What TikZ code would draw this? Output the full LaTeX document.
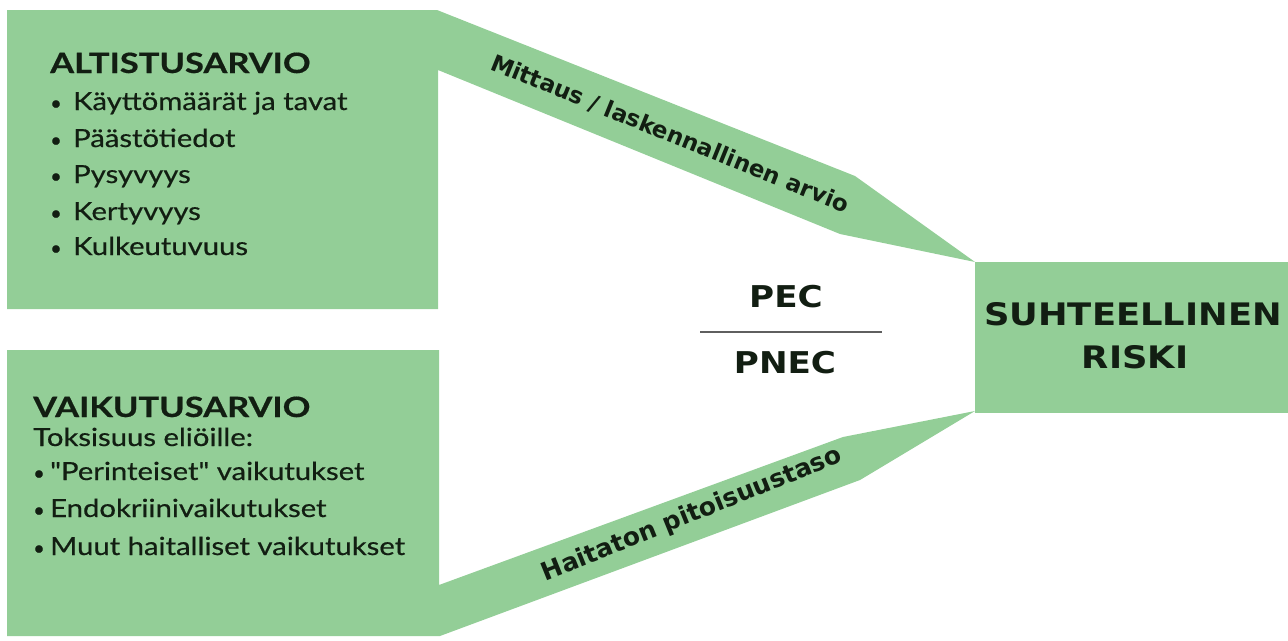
\documentclass[tikz,border=0pt]{standalone}
\usepackage{fontspec}
\setmainfont{Lato}
\newfontfamily\vfont{DejaVu Sans}
\newfontfamily\gill{Lato}[FakeBold=0.5]
\definecolor{boxgreen}{RGB}{147,206,151}
\definecolor{ink}{RGB}{18,30,18}
\definecolor{rule}{RGB}{95,95,95}
\tikzset{
  greenshape/.style={fill=boxgreen, draw=none},
  headtxt/.style={anchor=base west, inner sep=0pt, text=ink, font=\gill\fontsize{28}{30}\selectfont\bfseries},
  itemtxt/.style={anchor=base west, inner sep=0pt, text=ink, font=\gill\fontsize{25}{30}\selectfont},
  bigtxt/.style={anchor=base, inner sep=0pt, text=ink, font=\vfont\fontsize{31}{34}\selectfont\bfseries},
  bandtxt/.style={anchor=center, inner sep=0pt, text=ink, font=\vfont\fontsize{23}{26}\selectfont\bfseries},
}
\newcommand{\bul}[1]{\makebox[#1][l]{\raisebox{0pt}{\fontsize{20}{20}\selectfont•}}}
\newcommand{\wide}[1]{\scalebox{1.17}[1]{#1}}
\newcommand{\hwide}[1]{\scalebox{1.23}[1]{#1}}
\newcommand{\vwide}[1]{\scalebox{1.14}[1]{#1}}
\begin{document}
\begin{tikzpicture}[x=1pt,y=-1pt]
\useasboundingbox (0,0) rectangle (1288,640);
% top shape: exposure box with band
\fill[greenshape] (7,10) -- (437,10) -- (855,176) -- (975,262) -- (840,234) -- (438,70) -- (438,309) -- (7,309) -- cycle;
% bottom shape: effects box with band
\fill[greenshape] (7,350) -- (439,350) -- (439,585) -- (843,437) -- (975,411) -- (860,480) -- (440,636) -- (7,636) -- cycle;
% right box
\fill[greenshape] (975,262) rectangle (1288,413);

% top box text
\node[headtxt] (alt) at (50,73) {\hwide{ALTISTUSARVIO}};
\node[itemtxt] (a1) at (50,110) {\bul{23pt}\wide{Käyttömäärät ja tavat}};
\node[itemtxt] (a2) at (50,147) {\bul{23pt}\wide{Päästötiedot}};
\node[itemtxt] (a3) at (50,183) {\bul{23pt}\wide{Pysyvyys}};
\node[itemtxt] (a4) at (50,220) {\bul{23pt}\wide{Kertyvyys}};
\node[itemtxt] (a5) at (50,255) {\bul{23pt}\wide{Kulkeutuvuus}};

% bottom box text
\node[headtxt] (vai) at (33,417) {\hwide{VAIKUTUSARVIO}};
\node[itemtxt] (v0) at (33,446) {\wide{Toksisuus eliöille:}};
\node[itemtxt] (v1) at (33,480) {\bul{17pt}\wide{"Perinteiset" vaikutukset}};
\node[itemtxt] (v2) at (33,517) {\bul{17pt}\wide{Endokriinivaikutukset}};
\node[itemtxt] (v3) at (33,555) {\bul{17pt}\wide{Muut haitalliset vaikutukset}};

% band labels
\node[bandtxt, rotate=-22] (mit) at (670,134) {Mittaus / laskennallinen arvio};
\node[bandtxt, rotate=22, font=\vfont\fontsize{25}{28}\selectfont\bfseries] (hai) at (692,515) {Haitaton pitoisuustaso};

% ratio
\node[bigtxt, font=\vfont\fontsize{30}{32}\selectfont\bfseries] (pec) at (786,307) {\vwide{PEC}};
\node[bigtxt, font=\vfont\fontsize{30}{32}\selectfont\bfseries] (pnec) at (785,373) {\vwide{PNEC}};
\coordinate (r1) at (700,332);
\coordinate (r2) at (882,332);
\draw[rule, line width=2.5pt] (r1) -- (r2);

% result
\node[bigtxt] (suh) at (1133,325) {\vwide{SUHTEELLINEN}};
\node[bigtxt] (ris) at (1135,368) {\vwide{RISKI}};
\end{tikzpicture}
\end{document}
